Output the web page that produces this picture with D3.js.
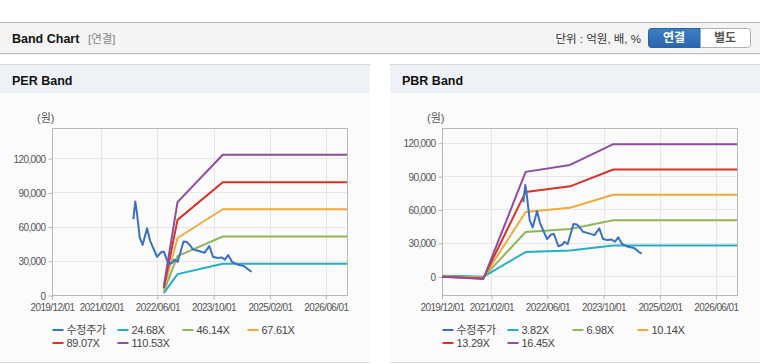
<!DOCTYPE html>
<html>
<head>
<meta charset="utf-8">
<script src="https://cdn.jsdelivr.net/npm/d3@7"></script>
<style>
  html, body { margin: 0; padding: 0; background: #ffffff; }
  svg { display: block; font-family: "Liberation Sans", Arial, "Noto Sans CJK KR", sans-serif; }
</style>
</head>
<body>
<svg id="chart" width="760" height="364"></svg>
<script>
// ---------------- DATA ----------------
const xTickDates = ["2019-12-01", "2021-02-01", "2022-06-01", "2023-10-01", "2025-02-01", "2026-06-01"];
const xDomain = ["2019-12-01", "2026-12-01"];
const yTicks = [0, 30000, 60000, 90000, 120000];

const priceDates = ["2021-11-05","2021-11-22","2021-12-05","2021-12-14","2021-12-30","2022-01-25","2022-03-04","2022-03-29",
  "2022-04-27","2022-05-30","2022-07-04","2022-07-28","2022-09-05","2022-10-11","2022-10-26","2022-11-24","2023-01-14",
  "2023-02-12","2023-03-08","2023-04-06","2023-05-20","2023-07-15","2023-08-25","2023-09-27","2023-11-05","2023-12-10",
  "2024-01-08","2024-02-05","2024-03-10","2024-05-01","2024-06-20","2024-08-15","2024-08-27"];
const priceValues = [66500, 82000, 73000, 65000, 50500, 44000, 58500, 48000,
  41000, 33500, 37500, 38000, 27000, 28500, 31000, 29000, 47000,
  46500, 44000, 40000, 38800, 37000, 43000, 33500, 32500, 33000,
  31000, 35000, 29000, 26500, 25500, 21000, 20500];

// PER band
const perLabels = ["수정주가", "24.68X", "46.14X", "67.61X", "89.07X", "110.53X"];
const perBandDates = ["2022-07-27", "2022-11-23", "2023-12-20", "2026-12-01"];
const per1 = [1700, 18300, 27500, 27500];
const per2 = [3100, 34100, 51300, 51300];
const per3 = [4600, 50000, 75200, 75200];
const per4 = [6000, 65900, 99000, 99000];
const per5 = [7500, 81500, 123000, 123000];
const perYDomain = [0, 146500];

// PBR band
const pbrLabels = ["수정주가", "3.82X", "6.98X", "10.14X", "13.29X", "16.45X"];
const pbrBandDates = ["2019-12-01", "2020-05-20", "2020-11-23", "2021-11-25", "2022-12-15", "2023-12-25", "2026-12-01"];
const pbr1 = [600, 300, -500, 21800, 23200, 27600, 27600];
const pbr2 = [0, -500, -1000, 39800, 42400, 50400, 50400];
const pbr3 = [-200, -700, -1400, 57800, 61600, 73200, 73200];
const pbr4 = [-300, -1000, -1900, 75800, 80800, 95900, 95900];
const pbr5 = [-400, -1300, -2400, 93800, 100000, 118700, 118700];
const pbrYDomain = [-16800, 133200];

const colors = ["#3a70c2", "#22b0c2", "#8fb65b", "#f0aa3c", "#d7322c", "#8e4d9d"];

// ---------------- DRAW ----------------
const svg = d3.select("#chart");
const parse = d3.timeParse("%Y-%m-%d");
const fmtDate = d3.timeFormat("%Y/%m/%d");
const fmtNum = d3.format(",");

// top header bar
svg.append("rect").attr("x", 0).attr("y", 22).attr("width", 760).attr("height", 31).attr("fill", "#f4f4f4");
svg.append("line").attr("x1", 0).attr("x2", 760).attr("y1", 22.5).attr("y2", 22.5).attr("stroke", "#b9b9b9");
svg.append("line").attr("x1", 0).attr("x2", 760).attr("y1", 53.5).attr("y2", 53.5).attr("stroke", "#c4c4c4");
svg.append("line").attr("x1", 0).attr("x2", 760).attr("y1", 54.5).attr("y2", 54.5).attr("stroke", "#ececec");
svg.append("text").attr("x", 12).attr("y", 43).attr("font-size", 12.5).attr("font-weight", "bold").attr("fill", "#111").text("Band Chart");
svg.append("text").attr("x", 88).attr("y", 43).attr("font-size", 11.5).attr("fill", "#888").text("[연결]");
svg.append("text").attr("x", 641).attr("y", 43).attr("text-anchor", "end").attr("font-size", 11.5).attr("fill", "#333").text("단위 : 억원, 배, %");

// toggle buttons
const grad = svg.append("defs").append("linearGradient").attr("id", "btnBlue").attr("x1", 0).attr("x2", 0).attr("y1", 0).attr("y2", 1);
grad.append("stop").attr("offset", "0%").attr("stop-color", "#3d7fc7");
grad.append("stop").attr("offset", "100%").attr("stop-color", "#2a66ac");
svg.append("rect").attr("x", 648.5).attr("y", 28.5).attr("width", 102).attr("height", 19).attr("rx", 3)
  .attr("fill", "#ffffff").attr("stroke", "#b0b0b0");
svg.append("path").attr("d", "M651.5,28.5 H700 V47.5 H651.5 Q648.5,47.5 648.5,44.5 V31.5 Q648.5,28.5 651.5,28.5 Z")
  .attr("fill", "url(#btnBlue)").attr("stroke", "#2a62a5");
svg.append("text").attr("x", 674).attr("y", 42).attr("text-anchor", "middle").attr("font-size", 12).attr("font-weight", "bold").attr("fill", "#fff").text("연결");
svg.append("text").attr("x", 725).attr("y", 42).attr("text-anchor", "middle").attr("font-size", 12).attr("font-weight", "bold").attr("fill", "#555").text("별도");

function drawPanel(px, pw, title, cfg) {
  const g = svg.append("g");
  g.append("rect").attr("x", px).attr("y", 64).attr("width", pw).attr("height", 299).attr("fill", "#fbfbfb");
  g.append("rect").attr("x", px).attr("y", 65).attr("width", pw).attr("height", 28).attr("fill", "#eef1f6");
  g.append("line").attr("x1", px).attr("x2", px + pw).attr("y1", 64.5).attr("y2", 64.5).attr("stroke", "#d9d9d9");
  g.append("line").attr("x1", px).attr("x2", px + pw).attr("y1", 362.5).attr("y2", 362.5).attr("stroke", "#dddddd");
  g.append("text").attr("x", px + 12).attr("y", 85).attr("font-size", 12.5).attr("font-weight", "bold").attr("fill", "#111").text(title);

  const left = cfg.left, right = cfg.left + 295, top = 128, bottom = 295;
  const x = d3.scaleTime().domain(xDomain.map(parse)).range([left, right]);
  const y = d3.scaleLinear().domain(cfg.yDomain).range([bottom, top]);

  // grid
  g.append("g").selectAll("line").data(xTickDates.map(parse)).join("line")
    .attr("x1", d => Math.round(x(d)) + 0.5).attr("x2", d => Math.round(x(d)) + 0.5)
    .attr("y1", top).attr("y2", bottom).attr("stroke", "#e6e6e6");
  g.append("g").selectAll("line").data(yTicks).join("line")
    .attr("x1", left).attr("x2", right)
    .attr("y1", d => Math.round(y(d)) + 0.5).attr("y2", d => Math.round(y(d)) + 0.5).attr("stroke", "#e6e6e6");

  // border
  g.append("rect").attr("x", left + 0.5).attr("y", top + 0.5).attr("width", right - left).attr("height", bottom - top)
    .attr("fill", "none").attr("stroke", "#b8b8b8");

  // axes
  const ya = g.append("g").attr("transform", `translate(${left + 0.5},0)`)
    .call(d3.axisLeft(y).tickValues(yTicks).tickFormat(fmtNum).tickSize(4).tickPadding(3));
  const xa = g.append("g").attr("transform", `translate(0,${bottom + 0.5})`)
    .call(d3.axisBottom(x).tickValues(xTickDates.map(parse)).tickFormat(fmtDate).tickSize(4).tickPadding(4));
  [ya, xa].forEach(a => {
    a.select(".domain").remove();
    a.selectAll(".tick line").attr("stroke", "#b8b8b8");
    a.selectAll(".tick text").attr("fill", "#555").attr("font-size", 10).attr("letter-spacing", "-0.6px")
      .attr("font-family", "'Liberation Sans', Arial, sans-serif");
  });
  ya.selectAll(".tick line").attr("transform", "translate(0,0.5)");
  ya.selectAll(".tick text").attr("dy", "0.4em");

  g.append("text").attr("x", left - 15).attr("y", 122).attr("font-size", 11).attr("fill", "#555").text("(원)");

  // series
  const line = d3.line().x(d => x(d[0])).y(d => y(d[1]));
  const bandDates = cfg.bandDates.map(parse);
  const series = [
    { dates: priceDates.map(parse), values: priceValues },
    ...cfg.bands.map(b => ({ dates: bandDates, values: b }))
  ];
  const clipId = "clip" + px;
  g.append("clipPath").attr("id", clipId).append("rect").attr("x", left).attr("y", top).attr("width", right - left).attr("height", bottom - top);
  const sg = g.append("g").attr("clip-path", `url(#${clipId})`);
  // draw bands first, then price on top
  series.slice(1).forEach((s, i) => {
    sg.append("path").datum(s.dates.map((d, j) => [d, s.values[j]]))
      .attr("d", line).attr("fill", "none").attr("stroke", colors[i + 1]).attr("stroke-width", 2)
      .attr("stroke-linejoin", "round");
  });
  sg.append("path").datum(series[0].dates.map((d, j) => [d, series[0].values[j]]))
    .attr("d", line).attr("fill", "none").attr("stroke", colors[0]).attr("stroke-width", 2)
    .attr("stroke-linejoin", "round");

  // legend
  const offs = [0, 65, 130, 195, 0, 65];
  cfg.labels.forEach((lab, i) => {
    const lx = left + 0.5 + offs[i];
    const ly = i < 4 ? 330 : 343;
    g.append("line").attr("x1", lx).attr("x2", lx + 11).attr("y1", ly).attr("y2", ly)
      .attr("stroke", colors[i]).attr("stroke-width", 2);
    g.append("text").attr("x", lx + 14).attr("y", ly + 4).attr("font-size", 11).attr("letter-spacing", "-0.3px")
      .attr("fill", "#444").text(lab);
  });
}

drawPanel(0, 370, "PER Band", { left: 52, yDomain: perYDomain, bandDates: perBandDates,
  bands: [per1, per2, per3, per4, per5], labels: perLabels });
drawPanel(390, 370, "PBR Band", { left: 442, yDomain: pbrYDomain, bandDates: pbrBandDates,
  bands: [pbr1, pbr2, pbr3, pbr4, pbr5], labels: pbrLabels });
</script>
</body>
</html>
